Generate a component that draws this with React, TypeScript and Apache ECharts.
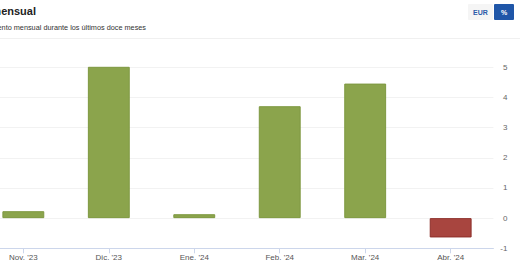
import React, { useEffect, useRef } from "react";
import * as echarts from "echarts";

const categories = ["Nov. '23", "Dic. '23", "Ene. '24", "Feb. '24", "Mar. '24", "Abr. '24"];
const values = [0.23, 5.02, 0.13, 3.71, 4.46, -0.64];
const yTicks = { min: -1, max: 5, interval: 1 };
const titleText = "Rendimiento mensual";
const subtitleText = "Rendimiento mensual durante los últimos doce meses";
const buttonLabels = ["EUR", "%"];

const GREEN = "#8ba44c";
const GREEN_BORDER = "#7e9840";
const RED = "#a8453f";
const RED_BORDER = "#8e2f2a";
const FONT = "'Liberation Sans', Arial, Helvetica, sans-serif";
const SHIFT = 20; // the chart extends past the left edge of the page

export default function App() {
  const ref = useRef<HTMLDivElement>(null);
  useEffect(() => {
    if (!ref.current) return;
    const chart = echarts.init(ref.current, undefined, { renderer: "svg" });
    chart.setOption({
      animation: false,
      backgroundColor: "#ffffff",
      textStyle: { fontFamily: FONT },
      grid: { left: SHIFT - 19.4, right: 26.6, top: 67.3, bottom: 23.7, containLabel: false },
      xAxis: {
        type: "category",
        data: categories,
        boundaryGap: true,
        axisLine: { onZero: false, lineStyle: { color: "#ccd6eb", width: 1 } },
        axisTick: { show: true, alignWithLabel: true, length: 5, lineStyle: { color: "#ccd6eb" } },
        axisLabel: { color: "#555555", fontSize: 8, margin: 5, fontFamily: FONT },
        splitLine: { show: false },
      },
      yAxis: {
        type: "value",
        position: "right",
        min: yTicks.min,
        max: yTicks.max,
        interval: yTicks.interval,
        axisLine: { show: false },
        axisTick: { show: false },
        axisLabel: { color: "#666666", fontSize: 8, margin: 14, align: "right", fontFamily: FONT },
        splitLine: { lineStyle: { color: "#f2f2f2", width: 1 } },
      },
      series: [
        {
          type: "bar",
          barWidth: "49%",
          data: values.map((v) => ({
            value: v,
            itemStyle: {
              color: v >= 0 ? GREEN : RED,
              borderColor: v >= 0 ? GREEN_BORDER : RED_BORDER,
              borderWidth: 1,
            },
          })),
        },
      ],
      graphic: [
        {
          type: "text",
          right: 520 - 36,
          top: 5,
          style: { text: titleText, font: `bold 11px ${FONT}`, fill: "#222222" },
        },
        {
          type: "text",
          right: 520 - 146,
          top: 24,
          style: { text: subtitleText, font: `7.3px ${FONT}`, fill: "#333333" },
        },
        {
          type: "line",
          shape: { x1: 0, y1: 38.5, x2: 520 + SHIFT, y2: 38.5 },
          style: { stroke: "#f0f0f0", lineWidth: 1 },
        },
        {
          type: "rect",
          shape: { x: SHIFT + 468, y: 4, width: 25, height: 16, r: 1 },
          style: { fill: "#f5f5f5" },
        },
        {
          type: "text",
          x: SHIFT + 480.5,
          y: 12,
          style: { text: buttonLabels[0], font: `bold 7px ${FONT}`, fill: "#2a5aa8", align: "center", verticalAlign: "middle" },
        },
        {
          type: "rect",
          shape: { x: SHIFT + 494, y: 4, width: 20, height: 16, r: 1 },
          style: { fill: "#1f56a8" },
        },
        {
          type: "text",
          x: SHIFT + 504,
          y: 12,
          style: { text: buttonLabels[1], font: `bold 7px ${FONT}`, fill: "#ffffff", align: "center", verticalAlign: "middle" },
        },
      ],
    });
    return () => chart.dispose();
  }, []);
  return <div ref={ref} style={{ position: "fixed", left: -SHIFT, top: 0, width: 520 + SHIFT, height: 272 }} />;
}
